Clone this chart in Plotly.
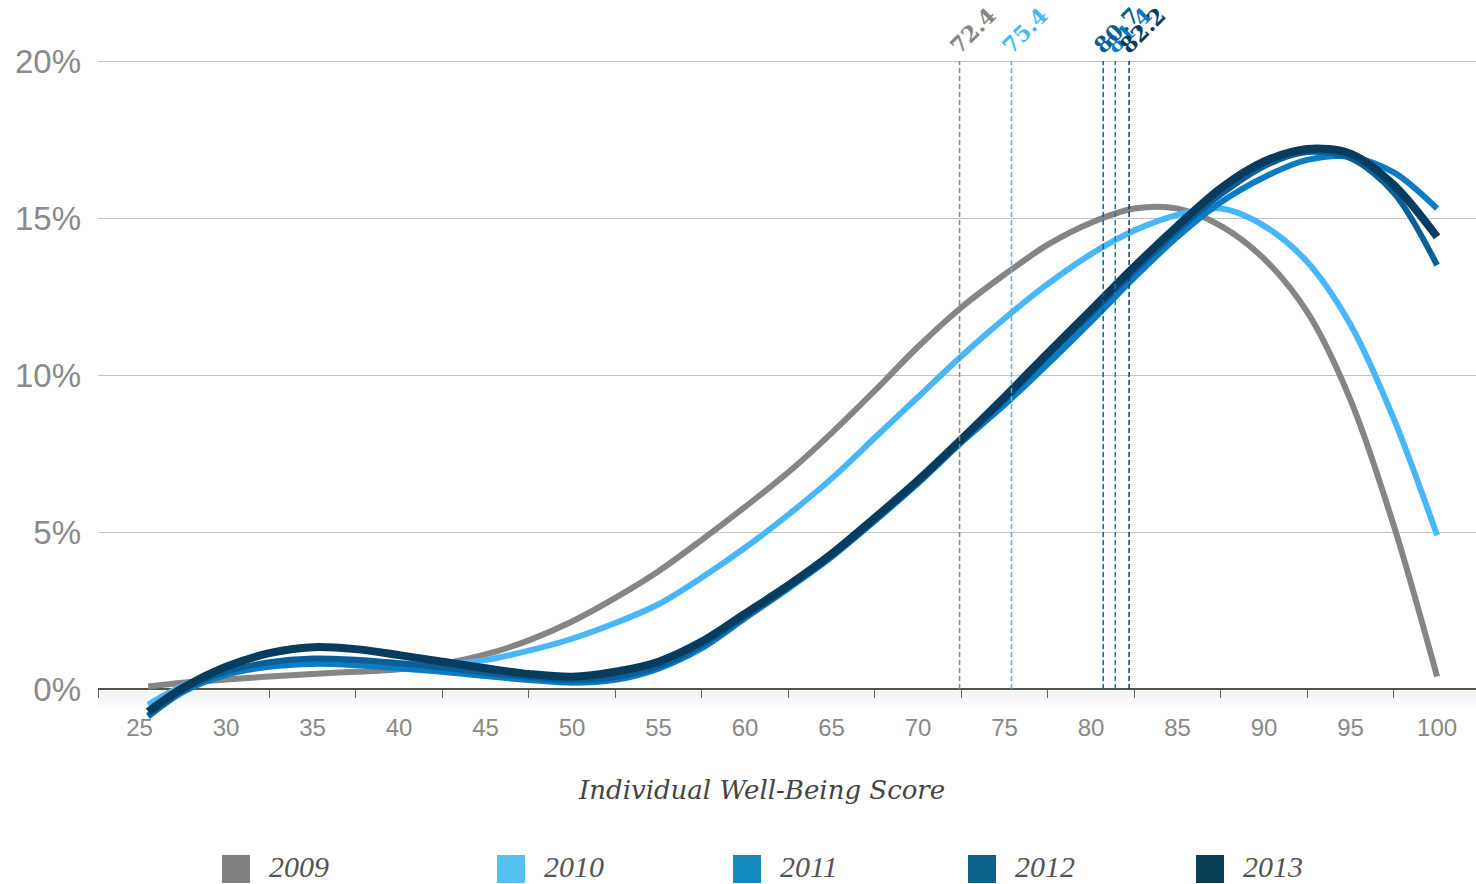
import plotly.graph_objects as go

# ---------------- data ----------------
years = ["2009", "2010", "2011", "2012", "2013"]
scores = [25.5, 27.5, 30, 32.5, 35, 37.5, 40, 42.5, 45, 47.5, 50, 52.5, 55, 57.5, 60,
          62.5, 65, 67.5, 70, 72.5, 75, 77.5, 80, 82.5, 85, 87.5, 90, 92.5, 95, 97.5, 100]
pct_2009 = [0.08, 0.2, 0.3, 0.4, 0.48, 0.55, 0.63, 0.8, 1.1, 1.55, 2.15, 2.9, 3.75, 4.75, 5.8,
            6.9, 8.15, 9.5, 10.9, 12.15, 13.2, 14.15, 14.85, 15.3, 15.3, 14.75, 13.7, 12.0, 9.2, 5.2, 0.4]
pct_2010 = [-0.5, 0.1, 0.55, 0.8, 0.88, 0.88, 0.82, 0.8, 0.92, 1.22, 1.6, 2.1, 2.7, 3.55, 4.5,
            5.55, 6.7, 8.0, 9.3, 10.6, 11.8, 12.9, 13.85, 14.6, 15.1, 15.3, 14.75, 13.6, 11.6, 8.6, 4.9]
pct_2011 = [-0.88, -0.1, 0.45, 0.71, 0.8, 0.76, 0.66, 0.55, 0.41, 0.29, 0.2, 0.29, 0.65, 1.3, 2.25,
            3.2, 4.2, 5.35, 6.55, 7.85, 9.05, 10.35, 11.7, 13.1, 14.4, 15.5, 16.3, 16.85, 16.95, 16.45, 15.3]
pct_2012 = [-0.85, -0.05, 0.55, 0.85, 0.97, 0.93, 0.82, 0.68, 0.52, 0.38, 0.28, 0.38, 0.72, 1.4, 2.3,
            3.25, 4.25, 5.4, 6.6, 7.9, 9.2, 10.6, 11.95, 13.3, 14.6, 15.75, 16.65, 17.1, 16.9, 15.8, 13.5]
pct_2013 = [-0.72, 0.03, 0.71, 1.14, 1.33, 1.27, 1.08, 0.87, 0.66, 0.48, 0.39, 0.55, 0.87, 1.51, 2.4,
            3.3, 4.3, 5.45, 6.65, 7.95, 9.3, 10.7, 12.07, 13.45, 14.75, 15.95, 16.8, 17.2, 17.05, 16.05, 14.4]
means = [72.4, 75.4, 81.4, 80.7, 82.2]

x_tick_vals = [25, 30, 35, 40, 45, 50, 55, 60, 65, 70, 75, 80, 85, 90, 95, 100]
x_tick_marks = [22.6, 32.5, 37.5, 42.5, 47.5, 52.5, 57.5, 62.5, 67.5, 72.5, 77.5, 82.5, 87.5, 92.5, 97.5]
y_tick_vals = [0, 5, 10, 15, 20]
y_tick_text = ["0%", "5%", "10%", "15%", "20%"]
x_title = "Individual Well-Being Score"

# ---------------- styles ----------------
series = [pct_2009, pct_2010, pct_2011, pct_2012, pct_2013]
line_colors = ["#858585", "#47b7f8", "#0b7cc4", "#0b5f96", "#073c5f"]
swatch_colors = ["#808080", "#55c1f0", "#1389be", "#0f6489", "#0a3f5a"]
line_widths = [6, 6, 6, 6, 8]

W, H = 1476, 884
ML, MR, MT, MB = 98, 0, 30, 154
PW, PH = W - ML - MR, H - MT - MB
PX_PER_PCT = 31.4
Y0_PX = 689  # pixel row of the 0% line


def px_to_paper_x(px):
    return (px - ML) / PW


def px_to_paper_y(py):
    return (H - MB - py) / PH


fig = go.Figure()
for yr, vals, c, w in zip(years, series, line_colors, line_widths):
    fig.add_trace(go.Scatter(x=scores, y=vals, mode="lines", name=yr,
                             line=dict(color=c, width=w, shape="spline", smoothing=0.9),
                             showlegend=False, hoverinfo="skip"))

# soft shadow under the axis line
for i in range(8):
    fig.add_shape(type="rect", xref="paper", yref="paper", x0=0, x1=1,
                  y0=px_to_paper_y(Y0_PX + 2 + 2 * (i + 1)), y1=px_to_paper_y(Y0_PX + 2 + 2 * i),
                  fillcolor="#000000", opacity=0.05 * (1 - i / 8), line=dict(width=0), layer="below")

# mean lines + labels
for yr, m, c in zip(years, means, line_colors):
    fig.add_shape(type="line", xref="x", yref="y", x0=m, x1=m, y0=0, y1=20,
                  line=dict(color=c, width=1.5, dash="5px,3px"), layer="above")
    fig.add_annotation(x=m, y=20, xref="x", yref="y", text=f"<b>{m}</b>", showarrow=False,
                       textangle=-45, xanchor="left", yanchor="bottom", yshift=1, xshift=-16,
                       borderpad=0,
                       font=dict(family="DejaVu Serif", size=22, color=c))

# x-axis title
fig.add_annotation(x=px_to_paper_x(761), y=px_to_paper_y(790), xref="paper", yref="paper",
                   text=x_title, showarrow=False, xanchor="center", yanchor="middle",
                   font=dict(family="DejaVu Serif", size=26, color="#444444", style="italic"))

# legend (swatches + labels)
legend_left_px = [222, 497, 733, 968, 1196]
for yr, c, lx in zip(years, swatch_colors, legend_left_px):
    fig.add_shape(type="rect", xref="paper", yref="paper",
                  x0=px_to_paper_x(lx), x1=px_to_paper_x(lx + 28),
                  y0=px_to_paper_y(883), y1=px_to_paper_y(855),
                  fillcolor=c, line=dict(width=0))
    fig.add_annotation(x=px_to_paper_x(lx + 46), y=px_to_paper_y(866), xref="paper", yref="paper",
                       text=yr, showarrow=False, xanchor="left", yanchor="middle", borderpad=0,
                       font=dict(family="Liberation Serif", size=30, color="#555555", style="italic"))

fig.update_layout(
    width=W, height=H,
    margin=dict(l=ML, r=MR, t=MT, b=MB, pad=0),
    plot_bgcolor="white", paper_bgcolor="white",
    showlegend=False,
    xaxis=dict(range=[22.6, 102.25], tickvals=x_tick_vals, ticktext=[str(v) for v in x_tick_vals],
               ticks="", showgrid=False, zeroline=False, showline=False,
               anchor="free", position=(H - MB - Y0_PX) / PH, ticklabelstandoff=22,
               tickfont=dict(family="Liberation Sans", size=24, color="#888888"),
               minor=dict(tickvals=x_tick_marks, ticks="outside", ticklen=8, tickwidth=1,
                          tickcolor="#666666", showgrid=False)),
    yaxis=dict(range=[-(H - MB - Y0_PX) / PX_PER_PCT, (Y0_PX - MT) / PX_PER_PCT],
               tickvals=y_tick_vals, ticktext=y_tick_text, ticks="",
               showgrid=True, gridcolor="#c4c4c4", gridwidth=1,
               zeroline=True, zerolinecolor="#4d584b", zerolinewidth=2, showline=False,
               ticklabelstandoff=16,
               tickfont=dict(family="Liberation Sans", size=33, color="#8a8a8a")),
)

fig.write_html("out.html", config={"displayModeBar": False},
               post_script="document.body.style.margin='0';")
